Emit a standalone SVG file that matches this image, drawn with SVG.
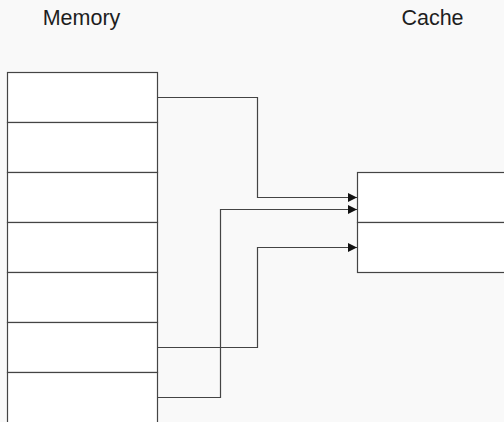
<svg xmlns="http://www.w3.org/2000/svg" width="504" height="422" viewBox="0 0 504 422">
<defs>
<style>
.box{fill:#ffffff;stroke:#444444;stroke-width:1.2}
.lbl{font-family:"Liberation Sans",Arial,sans-serif;font-size:21.5px;fill:#1e1e1e;text-anchor:middle}
.wire{fill:none;stroke:#444444;stroke-width:1.2}
</style>
<marker id="arr" viewBox="0 0 10 10" refX="10" refY="5" markerWidth="9" markerHeight="9" markerUnits="userSpaceOnUse" orient="auto">
<path d="M0,0 L10,5 L0,10 Z" fill="#111"/>
</marker>
</defs>
<rect width="504" height="422" fill="#f9f9f9"/>
<text class="lbl" x="81.5" y="25">Memory</text>
<text class="lbl" x="432.5" y="25">Cache</text>
<g id="memory">
<rect id="m0" class="box" x="7.5" y="72.5" width="150" height="50"/>
<rect id="m1" class="box" x="7.5" y="122.5" width="150" height="50"/>
<rect id="m2" class="box" x="7.5" y="172.5" width="150" height="50"/>
<rect id="m3" class="box" x="7.5" y="222.5" width="150" height="50"/>
<rect id="m4" class="box" x="7.5" y="272.5" width="150" height="50"/>
<rect id="m5" class="box" x="7.5" y="322.5" width="150" height="50"/>
<rect id="m6" class="box" x="7.5" y="372.5" width="150" height="60"/>
</g>
<g id="cache">
<rect id="c0" class="box" x="357.5" y="172.5" width="160" height="50"/>
<rect id="c1" class="box" x="357.5" y="222.5" width="160" height="50"/>
</g>
<g id="connectors">
<path class="wire" marker-end="url(#arr)" d="M157.5,97.5 H257.5 V197.5 H357"/>
<path class="wire" marker-end="url(#arr)" d="M157.5,397.5 H220.5 V209.5 H357"/>
<path class="wire" marker-end="url(#arr)" d="M157.5,347.5 H257.5 V247.5 H357"/>
</g>
</svg>
